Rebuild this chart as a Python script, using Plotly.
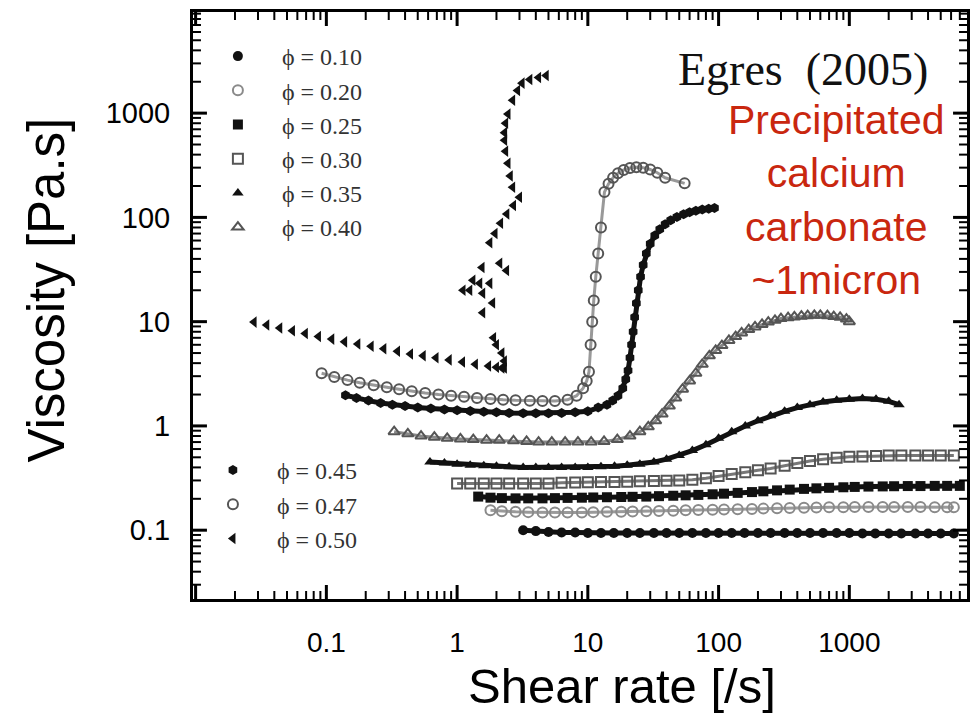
import math
import plotly.graph_objects as go

# ---------------- data ----------------
phi_labels = ["ϕ = 0.10", "ϕ = 0.20", "ϕ = 0.25", "ϕ = 0.30", "ϕ = 0.35",
              "ϕ = 0.40", "ϕ = 0.45", "ϕ = 0.47", "ϕ = 0.50"]

x_010 = [3.2, 4, 5, 6.3, 8, 10, 12.6, 15.8, 20, 25, 32, 40, 50, 63, 80, 100, 126, 158, 200, 250,
         320, 400, 500, 630, 800, 1000, 1260, 1580, 2000, 2500, 3200, 4000, 5000, 6300]
y_010 = [0.100, 0.098, 0.096, 0.095, 0.095, 0.094, 0.094, 0.094, 0.094, 0.094, 0.094, 0.094,
         0.094, 0.094, 0.094, 0.094, 0.094, 0.094, 0.094, 0.094, 0.094, 0.094, 0.094, 0.094,
         0.094, 0.094, 0.093, 0.093, 0.093, 0.093, 0.093, 0.093, 0.093, 0.093]

x_020 = [1.8, 2.2, 2.8, 3.5, 4.5, 5.6, 7, 9, 11, 14, 18, 22, 28, 35, 45, 56, 70, 90, 110, 140,
         180, 220, 280, 350, 450, 560, 700, 900, 1100, 1400, 1800, 2200, 2800, 3500, 4500, 5600, 6300]
y_020 = [0.155, 0.152, 0.150, 0.149, 0.148, 0.148, 0.148, 0.148, 0.149, 0.150, 0.150, 0.151,
         0.152, 0.153, 0.154, 0.155, 0.156, 0.157, 0.158, 0.159, 0.160, 0.161, 0.162, 0.163,
         0.164, 0.165, 0.166, 0.166, 0.167, 0.167, 0.167, 0.167, 0.167, 0.167, 0.166, 0.166, 0.166]

x_025 = [1.45, 1.8, 2.2, 2.8, 3.5, 4.5, 5.6, 7, 9, 11, 14, 18, 22, 28, 35, 45, 56, 70, 90, 110,
         140, 180, 220, 280, 350, 450, 560, 700, 900, 1100, 1400, 1800, 2200, 2800, 3500, 4500,
         5600, 7000]
y_025 = [0.21, 0.205, 0.203, 0.202, 0.202, 0.202, 0.203, 0.204, 0.205, 0.206, 0.207, 0.208,
         0.209, 0.210, 0.212, 0.214, 0.216, 0.218, 0.221, 0.224, 0.228, 0.232, 0.236, 0.241,
         0.245, 0.249, 0.252, 0.255, 0.258, 0.260, 0.262, 0.263, 0.264, 0.265, 0.265, 0.266,
         0.266, 0.266]

x_030 = [1.0, 1.26, 1.6, 2, 2.5, 3.2, 4, 5, 6.3, 8, 10, 12.6, 16, 20, 25, 32, 40, 50, 63, 80,
         100, 126, 160, 200, 250, 320, 400, 500, 630, 800, 1000, 1260, 1600, 2000, 2500, 3200,
         4000, 5000, 6300]
y_030 = [0.28, 0.28, 0.28, 0.28, 0.28, 0.28, 0.28, 0.28, 0.285, 0.287, 0.288, 0.29, 0.29,
         0.292, 0.294, 0.296, 0.298, 0.30, 0.305, 0.315, 0.33, 0.345, 0.36, 0.375, 0.39, 0.415,
         0.44, 0.46, 0.48, 0.495, 0.505, 0.51, 0.515, 0.52, 0.52, 0.52, 0.52, 0.52, 0.52]

x_035 = [0.62, 0.8, 1.0, 1.26, 1.6, 2, 2.5, 3.2, 4, 5, 6.3, 8, 10, 12.6, 16, 20, 25, 32, 40, 50,
         63, 80, 100, 126, 160, 200, 250, 320, 400, 500, 630, 800, 1000, 1260, 1600, 2000, 2400]
y_035 = [0.45, 0.44, 0.43, 0.42, 0.415, 0.41, 0.405, 0.40, 0.40, 0.40, 0.40, 0.40, 0.40, 0.405,
         0.41, 0.42, 0.43, 0.45, 0.48, 0.52, 0.58, 0.66, 0.76, 0.88, 1.0, 1.12, 1.25, 1.38, 1.5,
         1.6, 1.7, 1.76, 1.8, 1.83, 1.8, 1.72, 1.6]

x_040 = [0.33, 0.42, 0.53, 0.67, 0.84, 1.06, 1.33, 1.68, 2.1, 2.7, 3.4, 4.2, 5.3, 6.7, 8.4, 10.6,
         13.3, 16.8, 21, 25, 29, 33, 37, 42, 47, 53, 60, 67, 75, 85, 95, 106, 120, 135, 150, 170,
         190, 215, 240, 270, 300, 340, 380, 430, 480, 540, 600, 680, 760, 850, 950, 1000]
y_040 = [0.88, 0.84, 0.80, 0.78, 0.76, 0.75, 0.74, 0.73, 0.73, 0.72, 0.71, 0.70, 0.70, 0.70,
         0.70, 0.70, 0.71, 0.74, 0.80, 0.88, 0.98, 1.12, 1.3, 1.55, 1.85, 2.25, 2.7, 3.2, 3.9,
         4.7, 5.3, 5.9, 6.6, 7.2, 7.8, 8.4, 8.9, 9.4, 9.9, 10.3, 10.7, 10.9, 11.1, 11.3, 11.4,
         11.5, 11.5, 11.4, 11.2, 11.0, 10.6, 10.0]

x_045 = [0.14, 0.17, 0.21, 0.26, 0.32, 0.4, 0.5, 0.63, 0.8, 1.0, 1.26, 1.6, 2.0, 2.5, 3.2, 4, 5,
         6.3, 8, 10, 12, 14, 15.5, 17, 18.5, 19.5, 20.3, 21, 21.6, 22.2, 22.8, 23.5, 24.3, 25.3,
         26.5, 28, 30, 32.5, 35.5, 39, 43, 48, 54, 60, 67, 75, 84, 93]
y_045 = [1.97, 1.85, 1.75, 1.66, 1.6, 1.55, 1.5, 1.47, 1.44, 1.41, 1.39, 1.37, 1.35, 1.33, 1.32,
         1.32, 1.32, 1.33, 1.35, 1.38, 1.5, 1.6, 1.75, 1.95, 2.3, 2.8, 3.4, 4.5, 6.0, 8.0, 11, 15,
         20, 27, 35, 45, 56, 67, 77, 86, 94, 101, 107, 112, 116, 119, 121, 123]

x_047 = [0.092, 0.115, 0.145, 0.18, 0.23, 0.29, 0.36, 0.45, 0.57, 0.72, 0.9, 1.13, 1.42, 1.8,
         2.25, 2.8, 3.6, 4.5, 5.6, 7, 8.2, 9.2, 9.8, 10.2, 10.5, 10.8, 11.1, 11.5, 12, 12.6, 13.4,
         14.4, 15.6, 17, 18.8, 21, 23.5, 26.5, 30, 34, 39, 55]
y_047 = [3.2, 2.95, 2.75, 2.6, 2.45, 2.35, 2.25, 2.15, 2.07, 2.0, 1.95, 1.9, 1.85, 1.81, 1.78,
         1.76, 1.74, 1.73, 1.73, 1.78, 1.95, 2.3, 2.7, 3.3, 6.0, 10, 16, 27, 45, 80, 175, 210,
         240, 265, 285, 298, 303, 300, 288, 268, 240, 212]

x_050 = [0.028, 0.035, 0.044, 0.055, 0.069, 0.087, 0.11, 0.138, 0.174, 0.22, 0.275, 0.35, 0.44,
         0.55, 0.69, 0.87, 1.1, 1.38, 1.74, 2.0, 2.2, 2.3, 2.3, 2.2, 2.0, 1.9, 1.87, 1.57, 1.25,
         1.49, 1.11, 1.32, 1.55, 1.78, 1.57, 2.12, 2.39, 1.78, 1.95, 2.15, 2.4, 2.7, 3.0, 2.66,
         2.55, 2.45, 2.35, 2.31, 2.31, 2.35, 2.45, 2.66, 2.9, 3.14, 3.6, 4.2, 4.8]
y_050 = [9.9, 9.3, 8.7, 8.2, 7.7, 7.2, 6.8, 6.4, 6.1, 5.8, 5.5, 5.2, 4.9, 4.7, 4.5, 4.3, 4.1,
         3.9, 3.75, 3.65, 3.6, 3.6, 4.2, 5.0, 6.0, 7.0, 15.1, 12.2, 20, 23.3, 20, 25, 33, 23.3,
         18.7, 36.4, 31, 57, 70, 88, 108, 130, 156, 195, 250, 330, 430, 550, 650, 800, 980, 1330,
         1650, 1940, 2100, 2200, 2300]

x_tick_vals = [0.1, 1, 10, 100, 1000]
x_tick_text = ["0.1", "1", "10", "100", "1000"]
y_tick_vals = [0.1, 1, 10, 100, 1000]
y_tick_text = ["0.1", "1", "10", "100", "1000"]

x_title = "Shear rate [/s]"
y_title = "Viscosity [Pa.s]"
source_text = "Egres  (2005)"
note_text = "Precipitated<br>calcium<br>carbonate<br>~1micron"

# ---------------- figure ----------------
W, H = 976, 715
L, R, T, B = 193, 6, 12, 116
PW, PH = W - L - R, H - T - B
X_RANGE = [-2.02, 3.9]
Y_RANGE = [-1.66, 3.97]


def px(x):
    return (x - L) / PW


def py(y):
    return 1 - (y - T) / PH


series = [
    (x_010, y_010, "circle", "#111111", "#111111", True, "legend"),
    (x_020, y_020, "circle-open", "#8a8a8a", "#9a9a9a", True, "legend"),
    (x_025, y_025, "square", "#111111", "#111111", True, "legend"),
    (x_030, y_030, "square-open", "#555555", "#777777", True, "legend"),
    (x_035, y_035, "triangle-up", "#111111", "#111111", True, "legend"),
    (x_040, y_040, "triangle-up-open", "#555555", "#888888", True, "legend"),
    (x_045, y_045, "hexagon", "#111111", "#111111", True, "legend2"),
    (x_047, y_047, "circle-open", "#555555", "#999999", True, "legend2"),
    (x_050, y_050, "triangle-left", "#111111", "#111111", False, "legend2"),
]

NB = "\u00a0\u00a0\u00a0\u00a0"

fig = go.Figure()
for (xs, ys, sym, mcol, lcol, connect, leg), name in zip(series, phi_labels):
    open_sym = sym.endswith("-open")
    if connect:
        fig.add_trace(go.Scatter(x=xs, y=ys, mode="lines", showlegend=False,
                                 line=dict(color=lcol, width=3 if open_sym else 5),
                                 hoverinfo="skip"))
    fig.add_trace(go.Scatter(
        x=xs, y=ys, mode="markers", name=NB + name, legend=leg,
        marker=dict(symbol=sym, size=10, color=mcol,
                    line=dict(color=mcol, width=2 if open_sym else 0)),
    ))

axis_style = dict(type="log", showgrid=False, zeroline=False, ticks="",
                  showline=True, linecolor="black", linewidth=3, mirror=True)
tick_font_x = dict(family="Liberation Sans, Arial, sans-serif", size=28, color="black")
tick_font_y = dict(family="Liberation Sans, Arial, sans-serif", size=29, color="black")

fig.update_layout(
    xaxis=dict(**axis_style, range=X_RANGE, tickmode="array", tickvals=x_tick_vals,
               ticktext=x_tick_text, tickfont=tick_font_x, ticklabelstandoff=16),
    yaxis=dict(**axis_style, range=Y_RANGE, tickmode="array", tickvals=y_tick_vals,
               ticktext=y_tick_text, tickfont=tick_font_y, ticklabelstandoff=14),
)


# ---- tick marks on all four sides (inside), drawn as axis decorations ----
def in_range(v, rng):
    lv = math.log10(v)
    return rng[0] <= lv <= rng[1]


def decade_ticks(rng):
    major, minor = [], []
    for k in range(math.floor(rng[0]), math.ceil(rng[1]) + 1):
        for m in range(1, 10):
            v = m * 10.0 ** k
            if in_range(v, rng):
                (major if m == 1 else minor).append(v)
    return major, minor


MAJ_LEN, MIN_LEN = 14, 8
shapes = []
xmaj, xmin = decade_ticks(X_RANGE)
ymaj, ymin = decade_ticks(Y_RANGE)
for vals, ln, wd in ((xmaj, MAJ_LEN, 3), (xmin, MIN_LEN, 2)):
    for v in vals:
        for y0, y1 in ((0, ln / PH), (1, 1 - ln / PH)):
            shapes.append(dict(type="line", xref="x", yref="paper", x0=v, x1=v,
                               y0=y0, y1=y1, line=dict(color="black", width=wd)))
for vals, ln, wd in ((ymaj, MAJ_LEN, 3), (ymin, MIN_LEN, 2)):
    for v in vals:
        for x0, x1 in ((0, ln / PW), (1, 1 - ln / PW)):
            shapes.append(dict(type="line", xref="paper", yref="y", x0=x0, x1=x1,
                               y0=v, y1=v, line=dict(color="black", width=wd)))

legend_font = dict(family="Liberation Serif, DejaVu Serif, serif", size=24, color="#333333")
fig.update_layout(
    width=W, height=H,
    margin=dict(l=L, r=R, t=T, b=B),
    paper_bgcolor="white", plot_bgcolor="white",
    shapes=shapes,
    legend=dict(x=px(218), y=py(34), xanchor="left", yanchor="top",
                bgcolor="rgba(0,0,0,0)", font=legend_font, itemwidth=30,
                tracegroupgap=0),
    legend2=dict(x=px(213), y=py(448), xanchor="left", yanchor="top",
                 bgcolor="rgba(0,0,0,0)", font=legend_font, itemwidth=30,
                 tracegroupgap=0),
    annotations=[
        dict(text=y_title, xref="paper", yref="paper", x=px(46), y=py(290),
             textangle=-90, showarrow=False, xanchor="center", yanchor="middle",
             font=dict(family="Liberation Sans, Arial, sans-serif", size=51, color="black")),
        dict(text=x_title, xref="paper", yref="paper", x=px(624), y=py(686),
             showarrow=False, xanchor="center", yanchor="middle",
             font=dict(family="Liberation Sans, Arial, sans-serif", size=49, color="black")),
        dict(text=source_text, xref="paper", yref="paper", x=px(805), y=py(70),
             showarrow=False, xanchor="center", yanchor="middle",
             font=dict(family="Liberation Serif, DejaVu Serif, serif", size=46, color="#111111")),
        dict(text=note_text, xref="paper", yref="paper", x=px(839), y=py(200),
             showarrow=False, xanchor="center", yanchor="middle", align="center",
             font=dict(family="Liberation Sans, Arial, sans-serif", size=41, color="#c9270f")),
    ],
)

fig.write_html("out.html")
